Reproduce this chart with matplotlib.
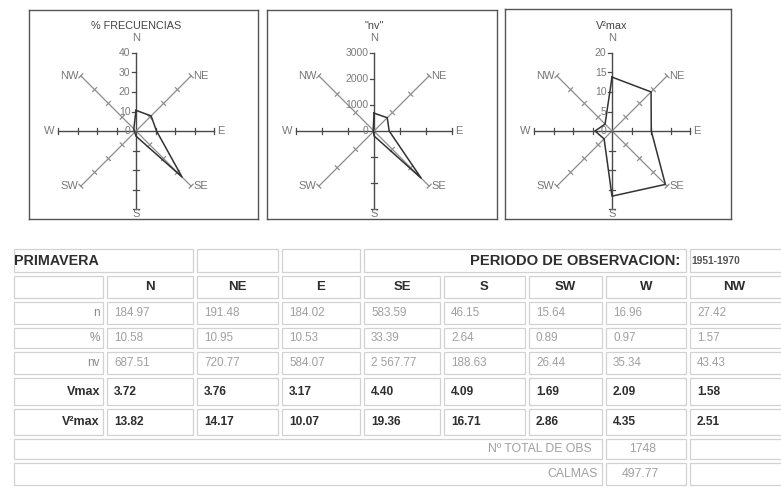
import numpy as np
import matplotlib
matplotlib.use("Agg")
from matplotlib import pyplot as plt
from matplotlib.patches import Rectangle

plt.rcParams['font.family'] = ['Liberation Sans', 'DejaVu Sans']

# data
directions = ['N', 'NE', 'E', 'SE', 'S', 'SW', 'W', 'NW']
n_obs = [184.97, 191.48, 184.02, 583.59, 46.15, 15.64, 16.96, 27.42]
pct = [10.58, 10.95, 10.53, 33.39, 2.64, 0.89, 0.97, 1.57]
nv = [687.51, 720.77, 584.07, 2567.77, 188.63, 26.44, 35.34, 43.43]
vmax = [3.72, 3.76, 3.17, 4.40, 4.09, 1.69, 2.09, 1.58]
v2max = [13.82, 14.17, 10.07, 19.36, 16.71, 2.86, 4.35, 2.51]
total_obs = 1748
calmas = 497.77
season = 'PRIMAVERA'
period = '1951-1970'

panel_titles = ['% FRECUENCIAS', '"nv"', 'V²max']
panel_series = [pct, nv, v2max]
panel_scale = [40, 3000, 20]
panel_steps = [4, 3, 4]

W, H = 781, 490
fig = plt.figure(figsize=(W / 100, H / 100), dpi=100)
fig.patch.set_facecolor('white')

# radar panels (pixel boxes)
boxes = [(29, 10, 258, 219), (267, 10, 497, 219), (505, 9, 731, 219)]
R = 78.0
ang = np.deg2rad(np.arange(8) * 45.0)
sx, sy = np.sin(ang), np.cos(ang)
spoke_c = '#8c8c8c'
axis_c = '#4a4a4a'
for (x0, y0, x1, y1), title, vals, vm, nst in zip(boxes, panel_titles, panel_series,
                                                   panel_scale, panel_steps):
    cx, cy = x0 + 107, 131
    ax = fig.add_axes([x0 / W, 1 - y1 / H, (x1 - x0) / W, (y1 - y0) / H])
    ax.set_xlim((x0 - cx) / R, (x1 - cx) / R)
    ax.set_ylim((cy - y1) / R, (cy - y0) / R)
    ax.set_xticks([]); ax.set_yticks([])
    for s in ax.spines.values():
        s.set_color('#555555'); s.set_linewidth(1.0)
    # spokes with ticks
    for i in range(8):
        c = axis_c if i % 2 == 0 else spoke_c
        ax.plot([0, sx[i]], [0, sy[i]], color=c, lw=1.0 if i % 2 == 0 else 0.9, zorder=1)
        px, py = -sy[i], sx[i]
        for k in range(1, nst + 1):
            f = k / nst
            if i == 0:
                ax.plot([f * sx[i], f * sx[i] - 0.05], [f * sy[i]] * 2, color=c, lw=0.9)
            else:
                ax.plot([f * sx[i] - 0.035 * px, f * sx[i] + 0.035 * px],
                        [f * sy[i] - 0.035 * py, f * sy[i] + 0.035 * py], color=c, lw=0.9)
    for k in range(nst + 1):
        ax.text(-0.07, k / nst, f'{int(vm * k / nst)}', ha='right', va='center', fontsize=7.5,
                color='#7a7a7a')
    # data polygon
    r = np.array(vals) / vm
    xs = np.append(r * sx, r[0] * sx[0])
    ys = np.append(r * sy, r[0] * sy[0])
    ax.plot(xs, ys, color='#333333', lw=1.1, zorder=3)
    # direction labels
    lab_kw = dict(fontsize=8, color='#777777')
    ax.text(0, 1.19, 'N', ha='center', va='center', **lab_kw)
    ax.text(0, 1.35, title, ha='center', va='center', fontsize=7.8, color='#444444')
    ax.text(1.04, 0, 'E', ha='left', va='center', **lab_kw)
    ax.text(-1.05, 0, 'W', ha='right', va='center', **lab_kw)
    ax.text(0, -1.0, 'S', ha='center', va='top', **lab_kw)
    d = np.sqrt(0.5)
    ax.text(d + 0.03, d, 'NE', ha='left', va='center', **lab_kw)
    ax.text(d + 0.03, -d, 'SE', ha='left', va='center', **lab_kw)
    ax.text(-d - 0.03, d, 'NW', ha='right', va='center', **lab_kw)
    ax.text(-d - 0.03, -d, 'SW', ha='right', va='center', **lab_kw)

# table
tx = fig.add_axes([0, 0, 1, 1])
tx.set_xlim(0, W); tx.set_ylim(H, 0); tx.axis('off')
cols = [12, 105, 195, 280, 362, 442, 527, 604, 688, 781]
rows = [247, 274, 300, 326, 350, 376, 407, 437, 461, 487]
grid_c = '#d2d2d2'
faint = '#a0a0a0'
dark = '#2e2e2e'


def cell(xa, xb, ya, yb):
    tx.add_patch(Rectangle((xa + 2, ya + 2), xb - xa - 4, yb - ya - 4, fill=False,
                           edgecolor=grid_c, lw=0.9))


# title row
cell(cols[0], cols[2], rows[0], rows[1])
cell(cols[2], cols[3], rows[0], rows[1])
cell(cols[3], cols[4], rows[0], rows[1])
cell(cols[4], cols[8], rows[0], rows[1])
cell(cols[8], cols[9] + 3, rows[0], rows[1])
ymid = (rows[0] + rows[1]) / 2
tx.text(cols[0] + 2, ymid, season, ha='left', va='center', fontsize=10.3, fontweight='bold', color=dark)
tx.text(cols[8] - 8, ymid, 'PERIODO DE OBSERVACION:', ha='right', va='center', fontsize=10.6,
        fontweight='bold', color=dark)
tx.text(cols[8] + 3, ymid, period, ha='left', va='center', fontsize=7.4, fontweight='bold', color='#555555')

# header row
for j in range(9):
    cell(cols[j], cols[j + 1] + (3 if j == 8 else 0), rows[1], rows[2])
ymid = (rows[1] + rows[2]) / 2
for j, dname in enumerate(directions):
    tx.text((cols[j + 1] + cols[j + 2]) / 2, ymid, dname, ha='center', va='center', fontsize=9.5,
            fontweight='bold', color=dark)


def fmt_sp(v):
    return f'{v:,.2f}'.replace(',', ' ')


body = [('n', n_obs, False), ('%', pct, False), ('nv', nv, False),
        ('Vmax', vmax, True), ('V²max', v2max, True)]
for i, (lab, vals, bold) in enumerate(body):
    ya, yb = rows[i + 2], rows[i + 3]
    ymid = (ya + yb) / 2
    for j in range(9):
        cell(cols[j], cols[j + 1] + (3 if j == 8 else 0), ya, yb)
    col = dark if bold else faint
    w = 'bold' if bold else 'normal'
    tx.text(cols[1] - 5, ymid, lab, ha='right', va='center', fontsize=9 if bold else 8.5,
            fontweight=w, color=dark if bold else '#8a8a8a')
    for j, v in enumerate(vals):
        tx.text(cols[j + 1] + 9, ymid, fmt_sp(v), ha='left', va='center', fontsize=8.6 if bold else 8.4,
                fontweight=w, color=col)

# totals rows
ya, yb = rows[7], rows[8]
cell(cols[0], cols[7], ya, yb); cell(cols[7], cols[8], ya, yb); cell(cols[8], cols[9] + 3, ya, yb)
tx.text(cols[7] - 12, (ya + yb) / 2, 'Nº TOTAL DE OBS', ha='right', va='center', fontsize=8.8, color=faint)
tx.text(cols[7] + 25, (ya + yb) / 2, f'{total_obs}', ha='left', va='center', fontsize=8.8, color=faint)
ya, yb = rows[8], rows[9]
cell(cols[0], cols[7], ya, yb); cell(cols[7], cols[8], ya, yb); cell(cols[8], cols[9] + 3, ya, yb)
tx.text(cols[7] - 6, (ya + yb) / 2, 'CALMAS', ha='right', va='center', fontsize=8.8, color=faint)
tx.text(cols[7] + 18, (ya + yb) / 2, f'{calmas:.2f}', ha='left', va='center', fontsize=8.8, color=faint)

fig.savefig('out.png', dpi=100, facecolor='white')
